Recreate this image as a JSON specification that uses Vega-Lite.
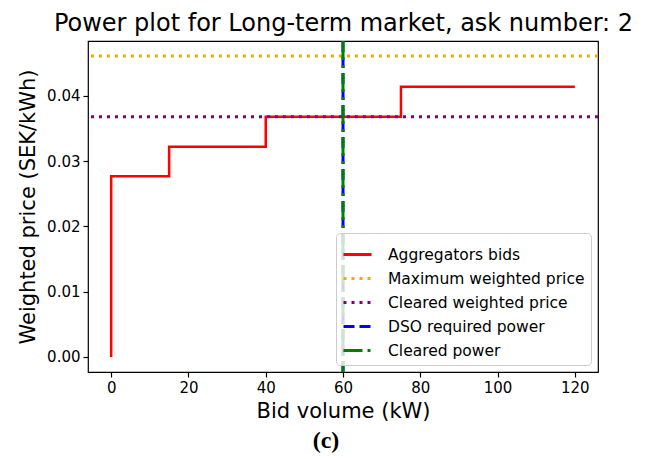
{
  "$schema": "https://vega.github.io/schema/vega-lite/v6.json",
  "autosize": {"type": "none"},
  "width": 510,
  "height": 331,
  "padding": {"left": 88, "top": 41, "right": 52, "bottom": 87},
  "background": "white",
  "title": {"text": "(c)", "orient": "bottom", "font": "Liberation Serif", "fontWeight": "bold", "fontSize": 24, "color": "black", "offset": 8, "anchor": "middle", "frame": "group", "dx": -17},
  "datasets": {
    "bids": [
      {"series": "Aggregators bids", "i": 0, "vol": 0, "price": 0},
      {"series": "Aggregators bids", "i": 1, "vol": 0, "price": 0.0277},
      {"series": "Aggregators bids", "i": 2, "vol": 15, "price": 0.0322},
      {"series": "Aggregators bids", "i": 3, "vol": 40, "price": 0.0368},
      {"series": "Aggregators bids", "i": 4, "vol": 75, "price": 0.0414},
      {"series": "Aggregators bids", "i": 5, "vol": 120, "price": 0.0414}
    ],
    "hlines": [
      {"series": "Maximum weighted price", "price": 0.0461},
      {"series": "Cleared weighted price", "price": 0.0368}
    ],
    "vlines": [
      {"series": "DSO required power", "vol": 60},
      {"series": "Cleared power", "vol": 60}
    ]
  },
  "config": {
    "font": "DejaVu Sans",
    "view": {"stroke": "black", "strokeWidth": 1.2},
    "axis": {"grid": false, "domain": false, "tickColor": "black", "tickSize": 5, "tickWidth": 1.2, "labelFont": "DejaVu Sans", "labelFontSize": 15, "labelColor": "black", "titleFont": "DejaVu Sans", "titleFontSize": 21, "titleFontWeight": "normal", "titleColor": "black", "labelPadding": 3, "labelFlush": false, "labelOverlap": false},
    "legend": {"orient": "bottom-right", "offset": 7, "symbolType": "stroke", "symbolSize": 784, "symbolStrokeWidth": 3, "labelFont": "DejaVu Sans", "labelFontSize": 15.5, "labelColor": "black", "labelLimit": 400, "rowPadding": -7.5, "labelOffset": 15, "fillColor": "rgba(255,255,255,0.8)", "strokeColor": "#cccccc", "cornerRadius": 4, "padding": 6, "title": null}
  },
  "resolve": {"axis": {"x": "independent"}},
  "layer": [
    {
      "data": {"name": "bids"},
      "mark": {"type": "line", "interpolate": "step-after", "strokeWidth": 2.5},
      "encoding": {
        "x": {"field": "vol", "type": "quantitative", "scale": {"domain": [-6, 126], "nice": false, "zero": false}, "axis": {"title": "Bid volume (kW)", "values": [0, 20, 40, 60, 80, 100, 120], "titlePadding": 5}},
        "y": {"field": "price", "type": "quantitative", "scale": {"domain": [-0.0023, 0.0484], "nice": false, "zero": false}, "axis": {"title": "Weighted price (SEK/kWh)", "values": [0, 0.01, 0.02, 0.03, 0.04], "format": ".2f", "titlePadding": 8}},
        "order": {"field": "i", "type": "quantitative"},
        "color": {"field": "series", "type": "nominal", "scale": {"domain": ["Aggregators bids", "Maximum weighted price", "Cleared weighted price", "DSO required power", "Cleared power"], "range": ["#ff0000", "#ffa500", "#800080", "#0000ff", "#008000"]}},
        "strokeDash": {"field": "series", "type": "nominal", "scale": {"domain": ["Aggregators bids", "Maximum weighted price", "Cleared weighted price", "DSO required power", "Cleared power"], "range": [[1, 0], [3, 5], [3, 5], [11, 5], [19, 5, 3, 5]]}}
      }
    },
    {
      "data": {"name": "hlines"},
      "mark": {"type": "rule", "strokeWidth": 3},
      "encoding": {
        "y": {"field": "price", "type": "quantitative"},
        "color": {"field": "series", "type": "nominal"},
        "strokeDash": {"field": "series", "type": "nominal"}
      }
    },
    {
      "data": {"name": "vlines"},
      "mark": {"type": "rule", "strokeWidth": 3},
      "encoding": {
        "x": {"field": "vol", "type": "quantitative", "axis": {"orient": "top", "title": "Power plot for Long-term market, ask number: 2", "labels": false, "ticks": false, "domain": false, "titleFontSize": 24, "titlePadding": 6}},
        "color": {"field": "series", "type": "nominal"},
        "strokeDash": {"field": "series", "type": "nominal"}
      }
    }
  ]
}
